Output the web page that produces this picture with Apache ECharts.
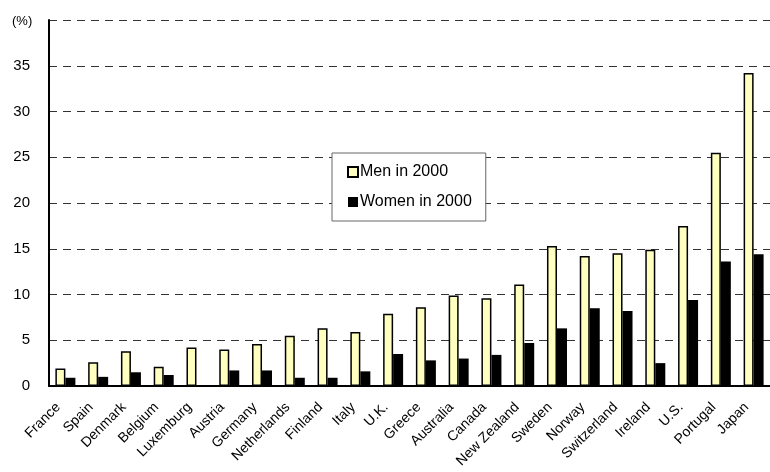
<!DOCTYPE html>
<html>
<head>
<meta charset="utf-8">
<script src="https://cdn.jsdelivr.net/npm/echarts@6/dist/echarts.min.js"></script>
<style>
  html, body { margin: 0; padding: 0; background: #fff; }
  #chart { width: 770px; height: 472px; }
</style>
</head>
<body>
<div id="chart"></div>
<script>
// categories and values
var countries = ['France', 'Spain', 'Denmark', 'Belgium', 'Luxemburg', 'Austria', 'Germany', 'Netherlands',
  'Finland', 'Italy', 'U.K.', 'Greece', 'Australia', 'Canada', 'New Zealand', 'Sweden', 'Norway',
  'Switzerland', 'Ireland', 'U.S.', 'Portugal', 'Japan'];
var men2000 = [1.9, 2.6, 3.8, 2.1, 4.2, 4.0, 4.6, 5.5, 6.3, 5.9, 7.9, 8.6, 9.9, 9.6, 11.1, 15.3, 14.2, 14.5, 14.9, 17.5, 25.5, 34.2];
var women2000 = [0.9, 1.0, 1.5, 1.2, 0, 1.7, 1.7, 0.9, 0.9, 1.6, 3.5, 2.8, 3.0, 3.4, 4.7, 6.3, 8.5, 8.2, 2.5, 9.4, 13.6, 14.4];

var chart = echarts.init(document.getElementById('chart'));
var font = '"Liberation Sans", Arial, sans-serif';

var option = {
  animation: false,
  textStyle: { fontFamily: font },
  grid: { left: 49, top: 20, bottom: 86, right: -12 },
  graphic: [{
    type: 'text', left: 12, top: 15,
    style: { text: '(%)', fontSize: 13, fill: '#000', fontFamily: font }
  }],
  legend: {
    orient: 'vertical',
    left: 332, top: 153,
    padding: [11, 14, 11, 15],
    itemWidth: 10, itemHeight: 10,
    itemGap: 14,
    backgroundColor: '#fff',
    borderColor: '#666', borderWidth: 1,
    textStyle: { fontSize: 16, color: '#000', fontFamily: font, padding: [0, 0, 0, -3] },
    data: [
      { name: 'Men in 2000', icon: 'rect' },
      { name: 'Women in 2000', icon: 'rect' }
    ]
  },
  xAxis: {
    type: 'category',
    data: countries,
    axisLine: { lineStyle: { color: '#000', width: 2 } },
    axisTick: { inside: true, length: 5, lineStyle: { color: '#000' } },
    axisLabel: { rotate: 45, fontSize: 14, color: '#000', margin: 12, interval: 0, padding: [0, 10, 0, 0] }
  },
  yAxis: {
    type: 'value',
    min: 0, max: 40, interval: 5,
    axisLine: { show: true, lineStyle: { color: '#000', width: 2 } },
    axisTick: { show: false },
    axisLabel: { fontSize: 15, color: '#000', margin: 19, showMaxLabel: false },
    splitLine: { lineStyle: { color: '#333', type: [8, 6], width: 1 } }
  },
  series: [
    {
      name: 'Men in 2000', type: 'bar', data: men2000,
      barWidth: 10, barGap: '0%',
      itemStyle: { color: '#ffffc0', borderColor: '#000', borderWidth: 1.5 }
    },
    {
      name: 'Women in 2000', type: 'bar', data: women2000,
      barWidth: 10,
      itemStyle: { color: '#000' }
    }
  ]
};

chart.setOption(option);
</script>
</body>
</html>
